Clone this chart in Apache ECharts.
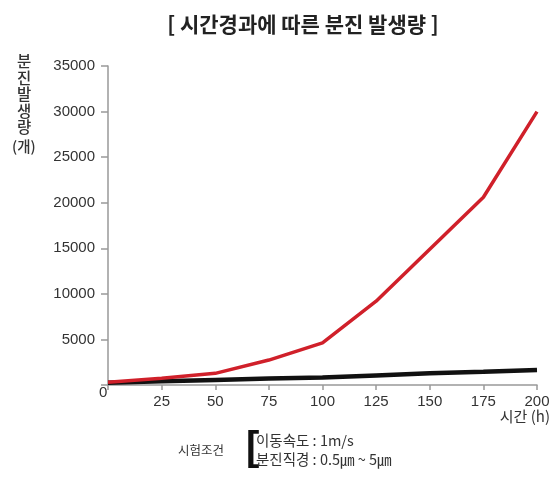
<!DOCTYPE html>
<html>
<head>
<meta charset="utf-8">
<script src="https://cdn.jsdelivr.net/npm/echarts@6/dist/echarts.min.js"></script>
<style>
html,body{margin:0;padding:0;background:#fff;}
#chart{width:555px;height:478px;}
</style>
</head>
<body>
<div id="chart"></div>
<script>
// Data
var hours = [0, 25, 50, 75, 100, 125, 150, 175, 200];
var redSeries = [300, 730, 1280, 2735, 4630, 9200, 14900, 20600, 30000];
var blackSeries = [250, 400, 560, 700, 820, 1050, 1280, 1450, 1650];
var xTicks = [25, 50, 75, 100, 125, 150, 175, 200];
var yTicks = [5000, 10000, 15000, 20000, 25000, 30000, 35000];

var titleText = '[ 시간경과에 따른 분진 발생량 ]';
var yName = '분\n진\n발\n생\n량';
var yUnit = '(개)';
var xName = '시간 (h)';
var condLabel = '시험조건';
var condLines = '이동속도 : 1m/s\n분진직경 : 0.5㎛ ~ 5㎛';

function pairs(xs, ys){ return xs.map(function(x,i){ return [x, ys[i]]; }); }

var numFont = "'Liberation Sans', Arial, sans-serif";
var krFont = "'Noto Sans CJK KR', sans-serif";

var chart = echarts.init(document.getElementById('chart'), null, {renderer:'canvas'});
chart.setOption({
  backgroundColor: '#fff',
  animation: false,
  title: {
    text: titleText,
    left: 298, top: 9, textAlign: 'center',
    textStyle: {fontFamily: krFont, fontSize: 21, fontWeight: 'bold', color: '#222'}
  },
  grid: {left: 108, right: 18, top: 66, bottom: 93},
  xAxis: {
    type: 'value', min: 0, max: 200, interval: 25,
    axisLine: {show: true, lineStyle: {color: '#999', width: 1.5}},
    axisTick: {show: true, length: 5, lineStyle: {color: '#999', width: 1.5}},
    splitLine: {show: false},
    axisLabel: {
      margin: 9, color: '#333', fontFamily: numFont, fontSize: 15,
      formatter: function(v){ return xTicks.indexOf(v) >= 0 ? String(v) : ''; }
    }
  },
  yAxis: {
    type: 'value', min: 0, max: 35000, interval: 5000,
    axisLine: {show: true, lineStyle: {color: '#999', width: 1.5}},
    axisTick: {show: true, length: 7, lineStyle: {color: '#999', width: 1.5}},
    splitLine: {show: false},
    axisLabel: {
      margin: 13, color: '#333', fontFamily: numFont, fontSize: 15,
      formatter: function(v){ return yTicks.indexOf(v) >= 0 ? String(v) : ''; }
    }
  },
  series: [
    {
      type: 'line', data: pairs(hours, blackSeries), symbol: 'none',
      lineStyle: {color: '#111', width: 4.5}, z: 2
    },
    {
      type: 'line', data: pairs(hours, redSeries), symbol: 'none',
      lineStyle: {color: '#d0202a', width: 3.5}, z: 3
    }
  ],
  graphic: [
    {type: 'text', left: 17, top: 53, style: {text: yName, fontFamily: krFont, fontSize: 15.5, lineHeight: 16.5, fill: '#333', fontWeight: 500, textAlign: 'center'}},
    {type: 'text', left: 12, top: 139, style: {text: yUnit, fontFamily: krFont, fontSize: 14.5, fill: '#333', fontWeight: 500}},
    {type: 'text', left: 99, top: 385, style: {text: '0', fontFamily: numFont, fontSize: 15, fill: '#333'}},
    {type: 'text', right: 5, top: 409, style: {text: xName, fontFamily: krFont, fontSize: 15, fill: '#333'}},
    {type: 'text', left: 178, top: 444, style: {text: condLabel, fontFamily: krFont, fontSize: 12.5, fill: '#333'}},
    {type: 'text', left: 246, top: 429, style: {text: '[', fontFamily: numFont, fontSize: 40, fontWeight: 'bold', fill: '#111'}},
    {type: 'text', left: 256, top: 431, style: {text: condLines, fontFamily: krFont, fontSize: 14.5, lineHeight: 19, fill: '#333'}}
  ]
});
</script>
</body>
</html>
